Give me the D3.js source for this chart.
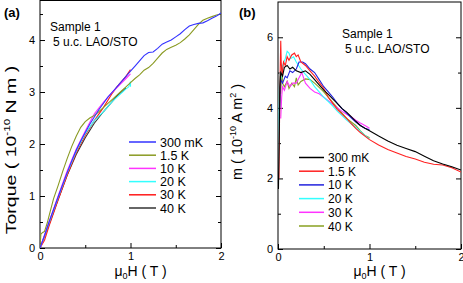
<!DOCTYPE html>
<html>
<head>
<meta charset="utf-8">
<script src="https://cdn.jsdelivr.net/npm/d3@7"></script>
<style>
  body { margin: 0; background: #fff; }
  svg { font-family: "Liberation Sans", Arial, sans-serif; }
</style>
</head>
<body>
<svg id="chart" width="463" height="283"></svg>
<script>
const temps = ["300 mK", "1.5 K", "10 K", "20 K", "30 K", "40 K"];

// panel (a): torque vs field, [H (T), torque (1e-10 N m)]
const torque300mK = [[0,0],[0.05,0.24],[0.1,0.5],[0.15,0.74],[0.2,0.98],[0.25,1.22],[0.3,1.45],[0.35,1.67],[0.4,1.88],[0.45,2.06],[0.5,2.22],[0.55,2.38],[0.6,2.52],[0.65,2.66],[0.7,2.78],[0.75,2.9],[0.8,3.0],[0.85,3.1],[0.9,3.2],[0.95,3.3],[1.0,3.4],[1.05,3.5],[1.1,3.6],[1.15,3.7],[1.2,3.76],[1.25,3.77],[1.3,3.84],[1.35,3.92],[1.4,3.96],[1.45,4.0],[1.5,4.06],[1.55,4.12],[1.6,4.2],[1.65,4.27],[1.7,4.3],[1.75,4.32],[1.8,4.33],[1.85,4.37],[1.9,4.42],[1.95,4.46],[2.0,4.52]];
const torque1p5K = [[0,0],[0.01,0.27],[0.03,0.3],[0.05,0.32],[0.08,0.48],[0.1,0.62],[0.15,0.95],[0.2,1.2],[0.25,1.47],[0.3,1.72],[0.35,1.95],[0.4,2.15],[0.45,2.32],[0.5,2.43],[0.55,2.5],[0.6,2.55],[0.65,2.62],[0.7,2.7],[0.75,2.78],[0.8,2.86],[0.85,2.94],[0.9,3.02],[0.95,3.1],[1.0,3.18],[1.05,3.26],[1.1,3.33],[1.15,3.42],[1.2,3.47],[1.25,3.55],[1.3,3.65],[1.35,3.75],[1.4,3.82],[1.45,3.86],[1.5,3.9],[1.55,3.95],[1.6,4.02],[1.65,4.1],[1.7,4.2],[1.75,4.3],[1.8,4.38],[1.85,4.42],[1.9,4.45],[1.95,4.48],[2.0,4.5]];
const torque10K = [[0,0],[0.1,0.5],[0.2,1.0],[0.3,1.48],[0.4,1.9],[0.5,2.25],[0.6,2.58],[0.7,2.8],[0.8,3.0],[0.9,3.17],[0.95,3.26],[1.0,3.35]];
const torque20K = [[0,0],[0.1,0.48],[0.2,0.97],[0.3,1.44],[0.4,1.86],[0.5,2.2],[0.6,2.45],[0.7,2.62],[0.75,2.72],[0.8,2.82],[0.9,2.98],[0.95,3.06],[0.98,3.1],[1.0,3.2],[1.0,3.1]];
const torque30K = [[0,0],[0.05,0.15],[0.1,0.42],[0.2,0.92],[0.3,1.4],[0.4,1.83],[0.5,2.17],[0.6,2.45],[0.7,2.7],[0.8,2.98],[0.85,3.1],[0.9,3.2],[0.95,3.3],[1.0,3.43]];
const torque40K = [[0,0],[0.1,0.45],[0.2,0.93],[0.3,1.4],[0.4,1.8],[0.5,2.12],[0.6,2.4],[0.7,2.62],[0.8,2.82],[0.85,2.92],[0.9,3.0],[0.95,3.08]];

// panel (b): magnetic moment vs field, [H (T), m (1e-10 A m^2)]
const moment300mK = [[0.005,1.7],[0.015,3.5],[0.02,4.6],[0.03,5.0],[0.05,4.9],[0.07,5.15],[0.1,5.2],[0.13,5.1],[0.16,5.15],[0.2,5.05],[0.25,5.0],[0.3,5.05],[0.35,4.95],[0.4,4.8],[0.45,4.65],[0.5,4.5],[0.55,4.38],[0.6,4.25],[0.65,4.12],[0.7,3.98],[0.75,3.88],[0.8,3.75],[0.85,3.62],[0.9,3.5],[0.95,3.42],[1.0,3.35],[1.1,3.2],[1.2,3.06],[1.3,2.94],[1.4,2.85],[1.5,2.76],[1.6,2.63],[1.7,2.5],[1.8,2.41],[1.9,2.33],[2.0,2.24]];
const moment1p5K = [[0.01,2.0],[0.02,4.5],[0.03,5.9],[0.035,5.3],[0.045,4.9],[0.06,5.3],[0.08,5.2],[0.1,5.45],[0.12,5.35],[0.15,5.5],[0.18,5.55],[0.2,5.45],[0.22,5.5],[0.25,5.3],[0.3,5.2],[0.35,5.05],[0.4,4.9],[0.45,4.72],[0.5,4.55],[0.55,4.3],[0.6,4.12],[0.65,3.95],[0.7,3.82],[0.75,3.7],[0.8,3.55],[0.85,3.42],[0.9,3.3],[0.95,3.2],[1.0,3.1],[1.1,2.95],[1.2,2.82],[1.3,2.72],[1.4,2.62],[1.5,2.55],[1.6,2.46],[1.7,2.4],[1.8,2.38],[1.9,2.3],[2.0,2.18]];
const moment10K = [[0.02,4.0],[0.03,4.8],[0.05,4.7],[0.08,4.9],[0.1,4.85],[0.13,5.05],[0.16,5.0],[0.2,5.1],[0.23,5.3],[0.27,5.3],[0.3,5.25],[0.35,5.1],[0.4,5.0],[0.45,4.8],[0.5,4.6],[0.55,4.45],[0.6,4.3],[0.65,4.12],[0.7,3.98],[0.75,3.85],[0.8,3.72],[0.85,3.6],[0.9,3.5],[0.95,3.42],[1.0,3.38]];
const moment20K = [[0.005,2.2],[0.01,3.0],[0.015,4.5],[0.02,5.0],[0.03,4.8],[0.05,5.2],[0.08,5.4],[0.1,5.6],[0.12,5.55],[0.14,5.4],[0.17,5.45],[0.2,5.3],[0.25,5.1],[0.3,4.95],[0.35,4.8],[0.4,4.6],[0.45,4.45],[0.5,4.3],[0.55,4.18],[0.6,4.05],[0.65,3.9],[0.7,3.78],[0.75,3.65],[0.8,3.55],[0.85,3.45],[0.9,3.33],[0.95,3.22],[1.0,3.12]];
const moment30K = [[0.03,3.7],[0.04,4.3],[0.05,4.6],[0.07,4.5],[0.1,4.75],[0.13,4.6],[0.16,4.7],[0.2,4.7],[0.23,4.85],[0.26,5.0],[0.28,4.85],[0.3,4.7],[0.35,4.55],[0.4,4.45],[0.45,4.4],[0.5,4.3],[0.55,4.2],[0.6,4.1],[0.65,4.0],[0.7,3.9],[0.75,3.82],[0.8,3.75],[0.85,3.65],[0.9,3.57],[0.95,3.5],[1.0,3.42]];
const moment40K = [[0.015,4.2],[0.02,4.9],[0.03,4.4],[0.04,5.2],[0.05,4.7],[0.07,4.6],[0.1,4.75],[0.12,4.55],[0.15,4.7],[0.18,4.6],[0.2,4.85],[0.22,4.65],[0.25,4.75],[0.3,4.82],[0.35,4.8],[0.4,4.7],[0.45,4.58],[0.5,4.45],[0.55,4.3],[0.6,4.15],[0.65,4.0],[0.7,3.85],[0.75,3.7],[0.8,3.6],[0.85,3.5],[0.9,3.35],[0.95,3.22],[1.0,3.15]];

const xTicks = [0, 1, 2];
const torqueTicks = [0, 1, 2, 3, 4];
const momentTicks = [0, 2, 4, 6];

const svg = d3.select('#chart');

function panel(opt) {
  const x = d3.scaleLinear().domain([0, 2]).range([opt.left, opt.right]);
  const y = d3.scaleLinear().domain(opt.yDomain).range([opt.bottom, opt.top]);
  const g = svg.append('g');

  // frame
  g.append('rect')
    .attr('x', opt.left).attr('y', opt.top)
    .attr('width', opt.right - opt.left).attr('height', opt.bottom - opt.top)
    .attr('fill', 'none').attr('stroke', '#000').attr('stroke-width', 1);

  const bottomAxis = d3.axisBottom(x).tickValues(xTicks).tickSize(-5).tickPadding(4).tickFormat(d3.format('d'));
  const bottomMinor = d3.axisBottom(x).tickValues([0.5, 1.5]).tickSize(-3).tickFormat('');
  const leftAxis = d3.axisLeft(y).tickValues(opt.yTicks).tickSize(-5).tickPadding(5).tickFormat(d3.format('d'));
  const leftMinor = d3.axisLeft(y).tickValues(opt.yMinor).tickSize(-3).tickFormat('');
  const rightAxis = d3.axisRight(y).tickValues(opt.yTicks).tickSize(-5).tickFormat('');
  const rightMinor = d3.axisRight(y).tickValues(opt.yMinor).tickSize(-3).tickFormat('');

  [[bottomAxis, `translate(0,${opt.bottom})`], [bottomMinor, `translate(0,${opt.bottom})`],
   [leftAxis, `translate(${opt.left},0)`], [leftMinor, `translate(${opt.left},0)`],
   [rightAxis, `translate(${opt.right},0)`], [rightMinor, `translate(${opt.right},0)`]]
    .forEach(([ax, tr]) => {
      const a = g.append('g').attr('transform', tr).call(ax);
      a.select('.domain').remove();
      a.selectAll('text').attr('font-size', 11).attr('font-family', '"Liberation Sans", Arial, sans-serif').attr('fill', '#000');
      a.selectAll('line').attr('stroke', '#000');
    });

  const line = d3.line().x(d => x(d[0])).y(d => y(d[1]));
  const clipId = 'clip' + opt.id;
  g.append('clipPath').attr('id', clipId).append('rect')
    .attr('x', opt.left).attr('y', opt.top)
    .attr('width', opt.right - opt.left).attr('height', opt.bottom - opt.top);

  // draw in reverse so the first series sits on top
  opt.series.slice().reverse().forEach((s, i) => {
    g.append('path').datum(s)
      .attr('clip-path', `url(#${clipId})`)
      .attr('fill', 'none')
      .attr('stroke', opt.colors[opt.series.length - 1 - i])
      .attr('stroke-width', 1.1)
      .attr('d', line);
  });

  // legend
  const leg = g.append('g');
  temps.forEach((t, i) => {
    const ly = opt.legY + i * opt.legStep;
    leg.append('line')
      .attr('x1', opt.legX).attr('x2', opt.legX + opt.legLen)
      .attr('y1', ly).attr('y2', ly)
      .attr('stroke', opt.colors[i]).attr('stroke-width', 1.5);
    leg.append('text')
      .attr('x', opt.legX + opt.legLen + 4).attr('y', ly + 4.5)
      .attr('font-size', opt.legFont).text(t);
  });

  g.append('text').attr('x', opt.sampleX).attr('y', opt.sampleY)
    .attr('font-size', 12).text('Sample 1');
  g.append('text').attr('x', opt.sampleX + 3).attr('y', opt.sampleY + 15)
    .attr('font-size', 12).text('5 u.c. LAO/STO');

  g.append('text').attr('x', opt.tagX).attr('y', 17)
    .attr('font-size', 13).attr('font-weight', 'bold').text(opt.tag);

  // x label
  const xl = g.append('text')
    .attr('x', (opt.left + opt.right) / 2 + 10).attr('y', 276)
    .attr('text-anchor', 'middle').attr('font-size', 14);
  xl.append('tspan').text('μ');
  xl.append('tspan').attr('font-size', 9).attr('dy', 3).text('0');
  xl.append('tspan').attr('dy', -3).text('H ( T )');

  // y label
  const yl = g.append('text')
    .attr('transform', `translate(${opt.yLabelX},${opt.yLabelY}) rotate(-90) scale(${opt.yLabelStretch},1)`)
    .attr('text-anchor', 'middle').attr('font-size', opt.yLabelFont);
  opt.yLabel(yl);
}

panel({
  id: 'a', tag: '(a)', tagX: 4,
  left: 40, right: 221, top: 0.5, bottom: 248,
  yDomain: [0, 4.76], yTicks: torqueTicks, yMinor: [0.5, 1.5, 2.5, 3.5, 4.5],
  series: [torque300mK, torque1p5K, torque10K, torque20K, torque30K, torque40K],
  colors: ['#3333ff', '#8a9a22', '#ff33ff', '#33ffff', '#ff1a1a', '#333333'],
  legX: 129, legY: 142, legStep: 13.2, legLen: 27, legFont: 12.5,
  sampleX: 50, sampleY: 31,
  yLabelX: 16, yLabelY: 150, yLabelFont: 15, yLabelStretch: 1.3,
  yLabel: t => {
    t.append('tspan').text('Torque ( 10');
    t.append('tspan').attr('font-size', 9).attr('dy', -6).text('-10');
    t.append('tspan').attr('dy', 6).text(' N m )');
  }
});

panel({
  id: 'b', tag: '(b)', tagX: 239,
  left: 278, right: 461, top: 2, bottom: 249,
  yDomain: [0, 7], yTicks: momentTicks, yMinor: [1, 3, 5],
  series: [moment300mK, moment1p5K, moment10K, moment20K, moment30K, moment40K],
  colors: ['#000000', '#ff2020', '#2222dd', '#33ffff', '#ff33ff', '#88a020'],
  legX: 299, legY: 157.5, legStep: 13.7, legLen: 25, legFont: 12,
  sampleX: 342, sampleY: 38,
  yLabelX: 242, yLabelY: 132, yLabelFont: 14.5, yLabelStretch: 1,
  yLabel: t => {
    t.append('tspan').text('m ( 10');
    t.append('tspan').attr('font-size', 9).attr('dy', -6).text('-10');
    t.append('tspan').attr('dy', 6).text(' A m');
    t.append('tspan').attr('font-size', 9).attr('dy', -6).text('2');
    t.append('tspan').attr('dy', 6).text(' )');
  }
});
</script>
</body>
</html>
